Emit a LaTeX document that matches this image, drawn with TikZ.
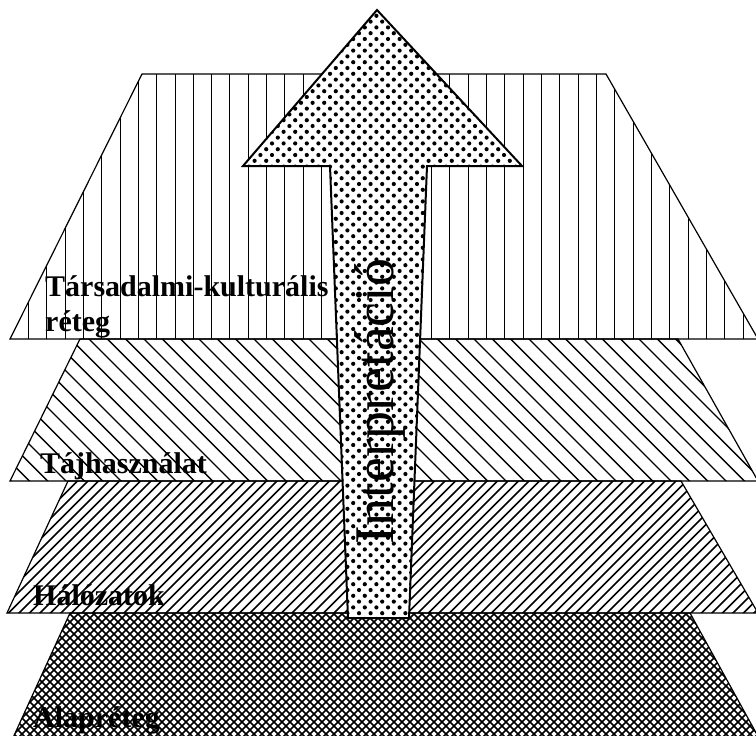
\documentclass[tikz,border=0pt]{standalone}
\usepackage{fontspec}
\setmainfont{Liberation Serif}
\begin{document}
\begin{tikzpicture}[x=1pt,y=-1pt,
  edge/.style={draw=black, line width=1.2pt, line join=miter},
  arrowedge/.style={draw=black, line width=2pt, line join=miter},
  vhatch/.style={line width=1pt},
  bhatch/.style={line width=1.4pt},
  fhatch/.style={line width=1.6pt},
  xhatch/.style={line width=1.7pt},
  lbl/.style={font=\fontsize{30}{35}\selectfont\bfseries, anchor=base west, inner sep=0pt, text=black},
  arrowtext/.style={font=\fontsize{56}{60}\selectfont, rotate=90, anchor=base west, inner sep=0pt}]
\useasboundingbox (0,0) rectangle (756,736);
\fill[white] (0,0) rectangle (756,736);
\begin{scope}
\clip (0,0) rectangle (756,736);
% ---- Layer 1: vertical hatch
\begin{scope}
\clip (142,74) -- (606,74) -- (758,339) -- (10,339) -- cycle;
\foreach \k in {-7,...,36} \draw[vhatch] ({120+18.333*\k},70) -- ({120+18.333*\k},345);
\end{scope}
\draw[edge] (142,74) -- (606,74) -- (758,339) -- (10,339) -- cycle;
% ---- Layer 2: backslash hatch
\begin{scope}
\clip (80,339) -- (678,339) -- (758,481) -- (10,481) -- cycle;
\foreach \k in {-31,...,20} \draw[bhatch] ({80+18.333*\k+330},330) -- ({80+18.333*\k+490},490);
\end{scope}
\draw[edge] (80,339) -- (678,339) -- (758,481) -- (10,481) -- cycle;
% ---- Layer 3: slash hatch
\begin{scope}
\clip (68,481) -- (681,481) -- (758,613) -- (7,613) -- cycle;
\foreach \k in {0,...,86} \draw[fhatch] ({485+10.5*\k-470},470) -- ({485+10.5*\k-625},625);
\end{scope}
\draw[edge] (68,481) -- (681,481) -- (758,613) -- (7,613) -- cycle;
% ---- Layer 4: cross hatch
\begin{scope}
\clip (70,613) -- (690,613) -- (760,740) -- (12,740) -- cycle;
\foreach \k in {0,...,112} {
  \draw[xhatch] ({612+8*\k-605},605) -- ({612+8*\k-745},745);
  \draw[xhatch] ({-744+8*\k+605},605) -- ({-744+8*\k+745},745);
}
\end{scope}
\draw[edge] (12,740) -- (70,613) -- (690,613) -- (760,740);
% ---- labels
\node[lbl] (t1) at (45,296) {Társadalmi-kulturális};
\node[lbl] (t1b) at (45,331) {réteg};
\node[lbl] (t2) at (40,473) {Tájhasználat};
\node[lbl] (t3) at (33,605) {Hálózatok};
\node[lbl] (t4) at (33,727) {Alapréteg};
% ---- arrow
\fill[white] (377,10) -- (522,166) -- (427,166) -- (409,618) -- (348,618) -- (330,166) -- (243,166) -- cycle;
\begin{scope}
\clip (377,10) -- (522,166) -- (427,166) -- (409,618) -- (348,618) -- (330,166) -- (243,166) -- cycle;
\foreach \i in {0,...,24} \foreach \j in {0,...,53} {
  \fill ({243+11.6*\i},{10+11.6*\j}) circle (2.1pt);
  \fill ({248.8+11.6*\i},{15.8+11.6*\j}) circle (2.1pt);
}
\end{scope}
\draw[arrowedge] (377,10) -- (522,166) -- (427,166) -- (409,618) -- (348,618) -- (330,166) -- (243,166) -- cycle;
\node[arrowtext] (interp) at (393,545) {Interpretáció};
\end{scope}
\end{tikzpicture}
\end{document}
